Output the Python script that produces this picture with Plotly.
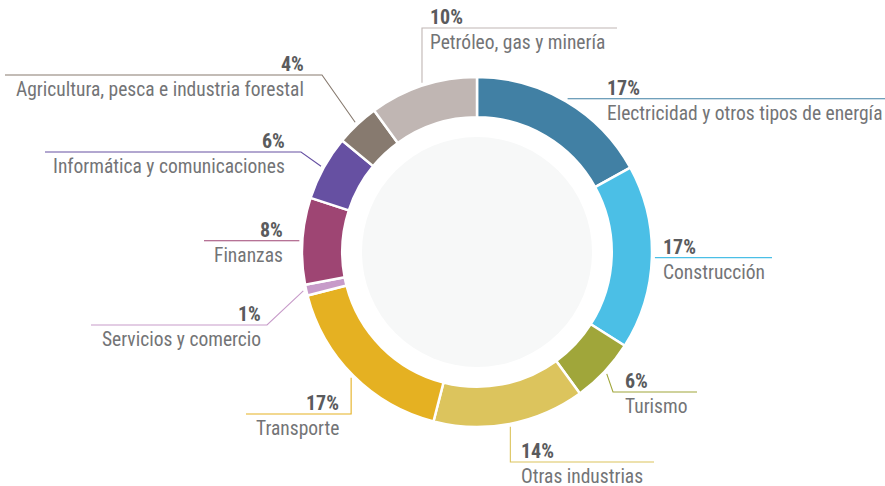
import math
import plotly.graph_objects as go

W, H = 885, 486

# data
labels = [
    "Electricidad y otros tipos de energía",
    "Construcción",
    "Turismo",
    "Otras industrias",
    "Transporte",
    "Servicios y comercio",
    "Finanzas",
    "Informática y comunicaciones",
    "Agricultura, pesca e industria forestal",
    "Petróleo, gas y minería",
]
values = [17, 17, 6, 14, 17, 1, 8, 6, 4, 10]
colors = [
    "#4180a4", "#4bbfe6", "#a0a63a", "#dcc45d", "#e5b122",
    "#c79bc9", "#9e4573", "#6650a2", "#877a6f", "#c0b6b3",
]

# label layout in px: side, elbow (x or None = start x, y or None = start y), end x, text x
label_pos = [
    ("right", (None, None), 885, 605),
    ("right", (None, None), 772, 661),
    ("right", (613, 392), 697, 623),
    ("right", (None, 462), 654, 519),
    ("left", (None, 414), 246, 341),
    ("left", (267, 325), 91, 263),
    ("left", (None, None), 204, 285),
    ("left", (301, 152), 45, 287),
    ("left", (322, 75), 5, 306),
    ("right", (None, 28), 617, 428),
]

# donut geometry (px)
cx, cy, R = 477, 252, 175
hole = 0.77
r_lead = 178

FONT = "Roboto Condensed, Liberation Sans Narrow, DejaVu Sans Condensed, Roboto, sans-serif"
PCT_COLOR = "#5a5b5d"
LBL_COLOR = "#737476"

fig = go.Figure()

fig.add_trace(go.Pie(
    labels=labels, values=values, sort=False, direction="clockwise", rotation=0,
    hole=hole, marker=dict(colors=colors, line=dict(color="white", width=2.5)),
    textinfo="none", hoverinfo="label+percent", showlegend=False,
    domain=dict(x=[(cx - R) / W, (cx + R) / W], y=[1 - (cy + R) / H, 1 - (cy - R) / H]),
))

# light inner disc
r_in = 115
fig.add_shape(type="circle", xref="x", yref="y", x0=cx - r_in, x1=cx + r_in,
              y0=cy - r_in, y1=cy + r_in, fillcolor="#f7f8f8", line_width=0, layer="below")

total = sum(values)
cum = 0
for lab, val, col, (side, elbow, end_x, text_x) in zip(labels, values, colors, label_pos):
    mid = (cum + val / 2) / total * 2 * math.pi
    cum += val
    sx = cx + r_lead * math.sin(mid)
    sy = cy - r_lead * math.cos(mid)
    ex = sx if elbow[0] is None else elbow[0]
    ey = sy if elbow[1] is None else elbow[1]
    fig.add_trace(go.Scatter(
        x=[sx, ex, end_x], y=[sy, ey, ey], mode="lines",
        line=dict(color=col, width=1.1), hoverinfo="skip", showlegend=False,
    ))
    anchor = "left" if side == "right" else "right"
    pct = round(val / total * 100)
    fig.add_annotation(x=text_x, y=ey - 11, xref="x", yref="y", text=f"<b>{pct}%</b>",
                       showarrow=False, xanchor=anchor, yanchor="middle",
                       font=dict(family=FONT, size=20, color=PCT_COLOR))
    fig.add_annotation(x=text_x, y=ey + 14.5, xref="x", yref="y", text=lab,
                       showarrow=False, xanchor=anchor, yanchor="middle",
                       font=dict(family=FONT, size=19.5, color=LBL_COLOR))

fig.update_layout(
    width=W, height=H, margin=dict(l=0, r=0, t=0, b=0),
    paper_bgcolor="white", plot_bgcolor="white",
    xaxis=dict(range=[0, W], visible=False, fixedrange=True),
    yaxis=dict(range=[H, 0], visible=False, fixedrange=True),
)

fig.write_html("out.html", config={"displayModeBar": False},
               post_script="document.body.style.margin='0';")
